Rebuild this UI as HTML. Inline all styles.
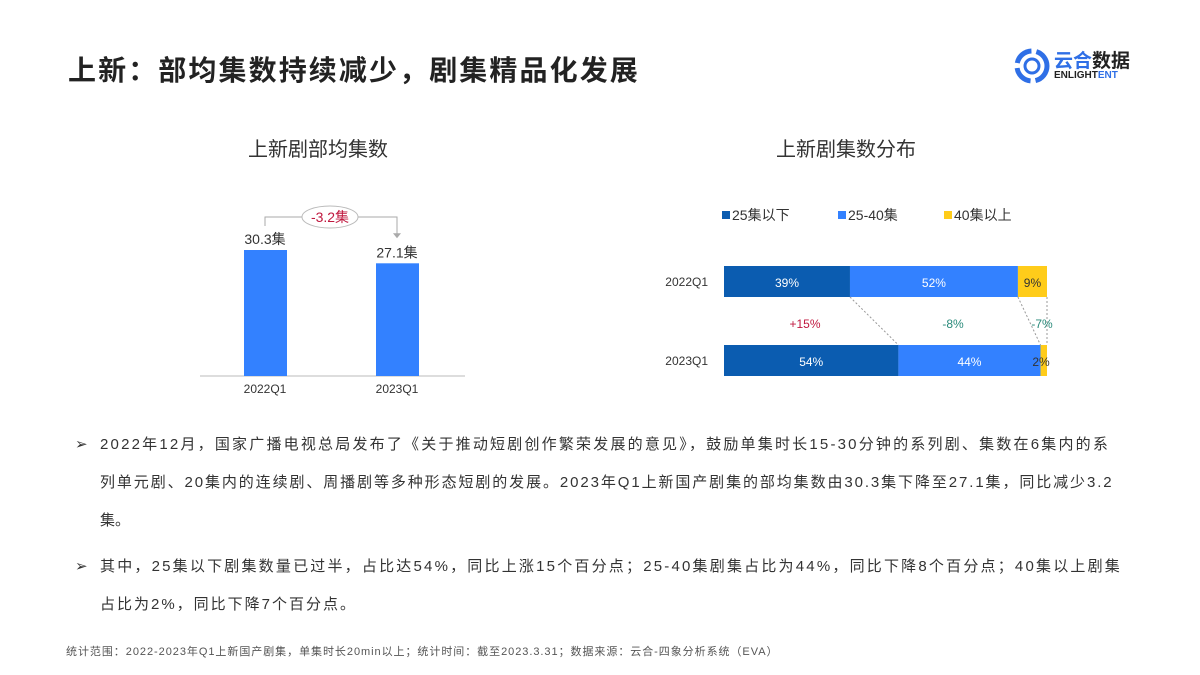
<!DOCTYPE html>
<html><head><meta charset="utf-8">
<style>
body{margin:0;width:1200px;height:675px;background:#fff;font-family:"Liberation Sans","Noto Sans CJK SC",sans-serif;position:relative;overflow:hidden;color:#333}
.abs{position:absolute}
.title{left:68px;top:49px;font-size:28px;font-weight:bold;color:#222;letter-spacing:2.1px}
.ct{font-size:20px;color:#333}
.para{left:75px;width:1080px;font-size:15px;color:#333;line-height:38px}
.para .b{position:absolute;left:0;top:0}
.para .t{margin-left:25px;display:block}
.para .ln{display:block;white-space:nowrap}
</style></head><body>
<div class="abs title">上新：部均集数持续减少，剧集精品化发展</div>
<div class="abs" style="left:1012px;top:44px;width:140px;height:45px">
<svg width="40" height="40" style="position:absolute;left:0;top:2px"><circle cx="20" cy="20" r="15" fill="none" stroke="#2f6fe6" stroke-width="5" stroke-dasharray="20 5"/><circle cx="20" cy="20" r="7" fill="none" stroke="#2f6fe6" stroke-width="3"/></svg>
<div class="abs" style="left:42px;top:2px;font-size:19px;font-weight:bold;color:#2f6fe6">云合<span style="color:#222">数据</span></div>
<div class="abs" style="left:42px;top:26px;font-size:10px;font-weight:bold;color:#222">ENLIGHT<span style="color:#2f6fe6">ENT</span></div>
</div>

<div class="abs ct" style="left:248px;top:133px">上新剧部均集数</div>
<div class="abs ct" style="left:776px;top:133px">上新剧集数分布</div>

<svg class="abs" style="left:0;top:0" width="1200" height="420" id="chart"></svg>

<div class="abs para" style="top:426px"><span class="b">➢</span><span class="t"><span class="ln" style="letter-spacing:2.2px">2022年12月，国家广播电视总局发布了《关于推动短剧创作繁荣发展的意见》，鼓励单集时长15-30分钟的系列剧、集数在6集内的系</span><span class="ln" style="letter-spacing:1.9px">列单元剧、20集内的连续剧、周播剧等多种形态短剧的发展。2023年Q1上新国产剧集的部均集数由30.3集下降至27.1集，同比减少3.2</span><span class="ln">集。</span></span></div>
<div class="abs para" style="top:548px"><span class="b">➢</span><span class="t"><span class="ln" style="letter-spacing:2.2px">其中，25集以下剧集数量已过半，占比达54%，同比上涨15个百分点；25-40集剧集占比为44%，同比下降8个百分点；40集以上剧集</span><span class="ln" style="letter-spacing:2px">占比为2%，同比下降7个百分点。</span></span></div>
<div class="abs" style="left:66px;top:643px;font-size:11px;color:#555;letter-spacing:0.95px;white-space:nowrap">统计范围：2022-2023年Q1上新国产剧集，单集时长20min以上；统计时间：截至2023.3.31；数据来源：云合-四象分析系统（EVA）</div>

<script>
const barCats=["2022Q1","2023Q1"];
const barVals=[30.3,27.1];
const diffLabel="-3.2集";
const stackCats=["2022Q1","2023Q1"];
const seriesNames=["25集以下","25-40集","40集以上"];
const s1=[39,54];
const s2=[52,44];
const s3=[9,2];
const changes=["+15%","-8%","-7%"];
const colors=["#0b5cb0","#3381ff","#ffcc1a"];
const ns="http://www.w3.org/2000/svg";
const svg=document.getElementById('chart');
function mk(t,a,p){const e=document.createElementNS(ns,t);for(const k in a)e.setAttribute(k,a[k]);(p||svg).appendChild(e);return e;}
const base=376, ky=126/30.3;
const yL=v=>base-v*ky;
const xL=i=>244+i*132;
let ax=mk('line',{x1:200,x2:465,y1:base,y2:base,stroke:'#bbb'});

barCats.forEach((c,i)=>{
 const r=mk('rect',{x:xL(i),y:yL(barVals[i]),width:43,height:base-yL(barVals[i]),fill:'#3381ff'});
 
 const v=mk('text',{x:xL(i)+21,y:yL(barVals[i])-6,'text-anchor':'middle','font-size':14,fill:'#333'});v.textContent=barVals[i]+'集';
 
 const l=mk('text',{x:xL(i)+21,y:393,'text-anchor':'middle','font-size':12,fill:'#333'});l.textContent=c;
 
});
const ay=217;
let p=mk('path',{d:`M${xL(0)+21} ${yL(barVals[0])-24} V${ay} H${xL(1)+21} V${yL(barVals[1])-26}`,fill:'none',stroke:'#aaa'});

mk('path',{d:`M${xL(1)+17} ${yL(barVals[1])-30} l4 5 l4 -5z`,fill:'#aaa'});
let el=mk('ellipse',{cx:330,cy:ay,rx:28,ry:11,fill:'#fff',stroke:'#bbb'});

let dt=mk('text',{x:330,y:ay+5,'text-anchor':'middle','font-size':14,fill:'#c0183f'});dt.textContent=diffLabel;

const x0=724,W=323;const xs=v=>x0+v/100*W;
const rowY=[266,345],bh=31;
const series=[s1,s2,s3];
seriesNames.forEach((n,k)=>{
 const lx=[722,838,944][k];
 const r=mk('rect',{x:lx,y:211,width:8,height:8,fill:colors[k]});
 
 const t=mk('text',{x:lx+10,y:220,'font-size':14,fill:'#333'});t.textContent=n;
 
});
const bounds=[];
stackCats.forEach((c,i)=>{
 let acc=0;const b=[0];
 const l=mk('text',{x:708,y:rowY[i]+20,'text-anchor':'end','font-size':12,fill:'#333'});l.textContent=c;
 
 series.forEach((s,k)=>{
  const r=mk('rect',{x:xs(acc),y:rowY[i],width:xs(acc+s[i])-xs(acc),height:bh,fill:colors[k]});
  
  const mid=(xs(acc)+xs(acc+s[i]))/2;
  const t=mk('text',{x:k==2&&s[i]<5?xs(acc+s[i])-6:mid,y:rowY[i]+21,'text-anchor':'middle','font-size':12,fill:k==2?'#333':'#fff'});t.textContent=s[i]+'%';
  
  acc+=s[i];b.push(acc);
 });
 bounds.push(b);
});
[1,2,3].forEach(j=>{
 const ln=mk('line',{x1:xs(Math.min(bounds[0][j],100)),y1:rowY[0]+bh,x2:xs(Math.min(bounds[1][j],100)),y2:rowY[1],stroke:'#999','stroke-dasharray':'2 2'});
 
});
changes.forEach((c,k)=>{
 const cx=[805,953,1042][k];
 const t=mk('text',{x:cx,y:328,'text-anchor':'middle','font-size':12,fill:k==0?'#c0183f':'#2a8a7a'});t.textContent=c;
 
});
</script>
</body></html>
